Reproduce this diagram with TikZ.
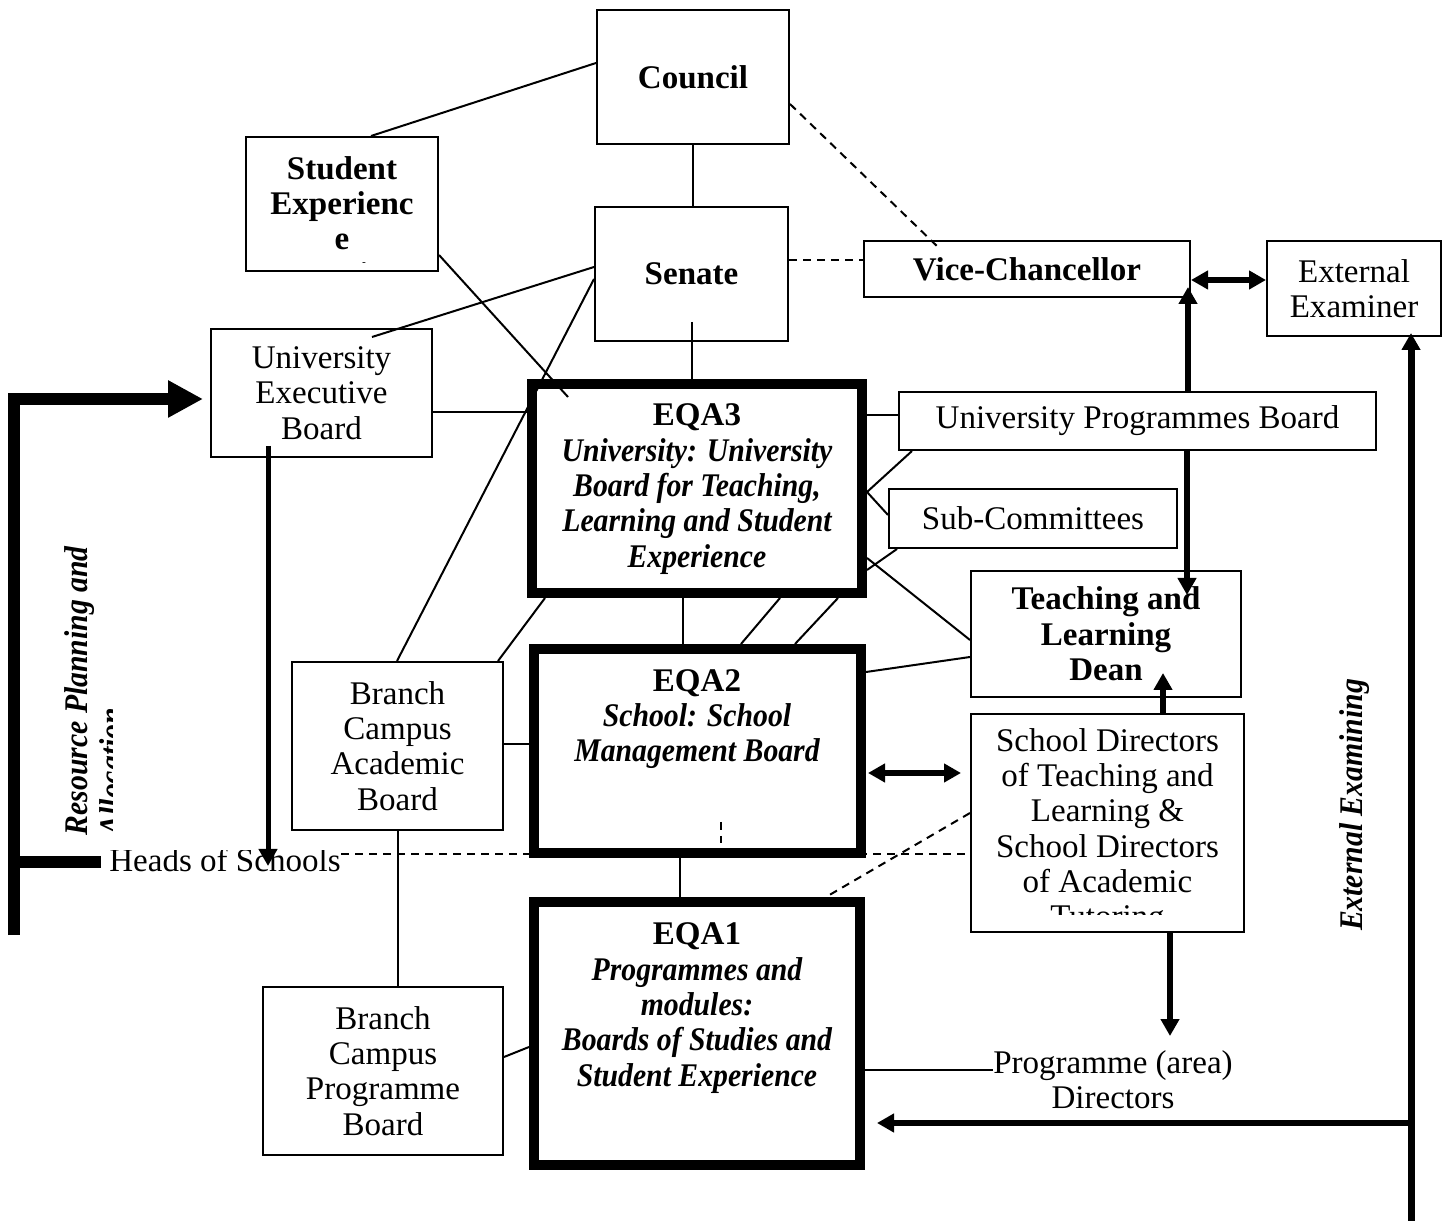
\documentclass[tikz,border=0pt]{standalone}
\usepackage{fontspec}
\setmainfont{Liberation Serif}
\newfontfamily\narrowserif{Liberation Serif}[FakeStretch=0.9]
\usetikzlibrary{arrows.meta, calc}
\tikzset{
  box/.style={draw, line width=0.2mm, align=center, inner sep=0pt},
  eqabox/.style={draw, line width=1mm, inner sep=0pt},
  link/.style={line width=0.2mm},
  dlink/.style={line width=0.2mm, dash pattern=on 0.8mm off 0.6mm},
  flow/.style={line width=0.6mm, -{Triangle[length=1.7mm,width=1.8mm]}},
  dflow/.style={line width=0.6mm, {Triangle[length=1.7mm,width=1.8mm]}-{Triangle[length=1.7mm,width=1.8mm]}},
  resflow/.style={line width=1.2mm, line join=miter},
}
\newcommand\eqit[1]{{\narrowserif\bfseries\itshape #1}}

\begin{document}
\fontsize{9.4}{10.05}\selectfont
\begin{tikzpicture}[x=0.1mm, y=-0.1mm]
\useasboundingbox (0,0) rectangle (1448,1221);

\node[box, minimum width=19.2mm, minimum height=13.4mm, font=\bfseries] (council) at (693,77) {Council};
\node[box, minimum width=19.3mm, minimum height=13.4mm, font=\bfseries] (senate) at (691.5,274) {Senate};
\node[box, minimum width=19.2mm, minimum height=13.4mm] (sec) at (342,204) {};
\begin{scope}
  \clip (246,137) rectangle (438,263);
  \node[align=center, inner sep=0pt, font=\bfseries] (sectxt) at (342,221) {Student\\Experienc\\e\\Committee};
\end{scope}
\node[box, minimum width=32.6mm, minimum height=5.6mm, font=\bfseries] (vc) at (1027,269) {Vice-Chancellor};
\node[box, minimum width=17.4mm, minimum height=9.5mm] (ee) at (1354,288.5) {External\\Examiner};
\node[box, minimum width=22.1mm, minimum height=12.8mm] (ueb) at (321.5,393) {University\\Executive\\Board};

\node[eqabox, minimum width=33mm, minimum height=20.9mm] (eqa3) at (697,488.5) {};
\node[align=center, inner sep=0pt] (eqa3txt) at (697,489) {\textbf{EQA3}\\\eqit{University: University}\\\eqit{Board for Teaching,}\\\eqit{Learning and Student}\\\eqit{Experience}};
\node[eqabox, minimum width=32.7mm, minimum height=20.4mm] (eqa2) at (697.5,751) {};
\node[align=center, inner sep=0pt] (eqa2txt) at (697,719) {\textbf{EQA2}\\\eqit{School: School}\\\eqit{Management Board}};
\node[eqabox, minimum width=32.6mm, minimum height=26.3mm] (eqa1) at (697,1033.5) {};
\node[align=center, inner sep=0pt] (eqa1txt) at (697,1008) {\textbf{EQA1}\\\eqit{Programmes and}\\\eqit{modules:}\\\eqit{Boards of Studies and}\\\eqit{Student Experience}};

\node[box, minimum width=47.7mm, minimum height=5.8mm] (upb) at (1137.5,421) {University Programmes Board};
\node[box, minimum width=28.8mm, minimum height=5.9mm] (subc) at (1033,518.5) {Sub-Committees};
\node[box, minimum width=27mm, minimum height=12.6mm, font=\bfseries] (dean) at (1106,634) {Teaching and\\Learning\\Dean};
\node[box, minimum width=27.3mm, minimum height=21.8mm] (sdir) at (1107.5,823) {};
\begin{scope}
  \clip (971,714) rectangle (1244,914);
  \node[align=center, inner sep=0pt] (sdirtxt) at (1107.5,831.5) {School Directors\\of Teaching and\\Learning \&\\School Directors\\of Academic\\Tutoring};
\end{scope}
\node[box, minimum width=21.1mm, minimum height=16.8mm] (bcab) at (397.5,746) {Branch\\Campus\\Academic\\Board};
\node[box, minimum width=24mm, minimum height=16.8mm] (bcpb) at (383,1071) {Branch\\Campus\\Programme\\Board};
\node[align=center, inner sep=0pt] (progdir) at (1113,1080) {Programme (area)\\Directors};

\begin{scope}
  \clip (100,851) rectangle (345,900);
  \node[inner sep=0pt] (heads) at (225,860) {Heads of Schools};
\end{scope}
\begin{scope}
  \clip (0,500) rectangle (112,900);
  \node[rotate=90, anchor=north west, align=left, inner sep=0pt, font=\narrowserif\bfseries\itshape] (rpa) at (64,836) {Resource Planning and\\Allocation};
\end{scope}
\node[rotate=90, inner sep=0pt, font=\narrowserif\bfseries\itshape] (exam) at (1355,805) {External Examining};

\coordinate (rpbot) at (14,935);
\coordinate (exbot) at (1411,1221);

% plain links
\draw[link] (council.west |- 0,63) -- (sec.north -| 371,0);
\draw[link] (council.south) -- (council.south |- senate.north);
\draw[link] (sec.east |- 0,255) -- ($(eqa3.north west)+(41,18)$);
\draw[link] ($(senate.south)+(0,-20)$) -- (eqa3.north -| senate.south);
\draw[link] (senate.west |- 0,267) -- ($(ueb.north -| 372,0)+(0,9)$);
\draw[link] (senate.west |- 0,279) -- (bcab.north -| 397,0);
\draw[link] (ueb.east |- 0,412) -- (eqa3.west |- 0,412);
\draw[link] (bcab.north -| 498,0) -- (eqa3.south -| 545,0);
\draw[link] (eqa3.south -| 683,0) -- (eqa2.north -| 683,0);
\draw[link] (eqa3.south -| 780,0) -- (eqa2.north -| 741,0);
\draw[link] (eqa3.south -| 838,0) -- (eqa2.north -| 795,0);
\draw[link] (eqa3.east |- 0,415) -- (upb.west |- 0,415);
\draw[link] (eqa3.east |- 0,492) -- (upb.south -| 912,0);
\draw[link] (eqa3.east |- 0,492) -- (subc.west |- 0,515);
\draw[link] (eqa3.east |- 0,570) -- (subc.south -| 897,0);
\draw[link] (eqa3.east |- 0,558) -- (dean.west |- 0,640);
\draw[link] (eqa2.east |- 0,672) -- (dean.west |- 0,657);
\draw[link] (bcab.east |- 0,744) -- (eqa2.west |- 0,744);
\draw[link] (eqa2.south -| 680,0) -- (eqa1.north -| 680,0);
\draw[link] (bcab.south) -- (bcpb.north -| bcab.south);
\draw[link] (bcpb.east |- 0,1057) -- (eqa1.west |- 0,1047);
\draw[link] (eqa1.east |- 0,1070) -- (progdir.west |- 0,1070);

% dashed links
\draw[dlink] (council.east |- 0,104) -- ($(vc.north -| 940,0)+(0,9)$);
\draw[dlink] (senate.east |- 0,260) -- (vc.west |- 0,260);
\draw[dlink] (heads.east |- 0,854) -- (sdir.west |- 0,854);
\draw[dlink] (sdir.west |- 0,813) -- (eqa1.north -| 826,0);
\draw[dlink] ($(eqa2.south -| 721,0)+(0,-36)$) -- ($(eqa2.south -| 721,0)+(0,-15)$);

% thick arrows
\draw[dflow] (vc.east |- 0,280) -- (ee.west |- 0,280);
\draw[flow] (upb.north -| 1188,0) -- ($(vc.south -| 1188,0)+(0,-11)$);
\draw[flow] (upb.south -| 1187,0) -- ($(dean.north -| 1187,0)+(0,25)$);
\draw[flow] (sdir.north -| 1163,0) -- ($(dean.south -| 1163,0)+(0,-25)$);
\draw[dflow] ($(eqa2.east |- 0,773)+(2,0)$) -- ($(sdir.west |- 0,773)+(-9,0)$);
\draw[flow] (sdir.south -| 1170,0) -- ($(progdir.north -| 1170,0)+(0,-14)$);
\draw[flow, line width=0.7mm] (exbot) -- ($(ee.south -| exbot)+(0,-4)$);
\draw[flow] (exbot |- 0,1123) -- ($(eqa1.east |- 0,1123)+(12,0)$);
\draw[flow, line width=0.5mm] ($(ueb.south -| 268,0)+(0,-12)$) -- ($(heads.center -| 268,0)+(0,6)$);

% resource planning
\draw[resflow, -{Triangle[length=3.5mm,width=3.5mm]}] (rpbot) |- ($(ueb.west |- 0,399)+(-7,0)$);
\draw[resflow] (rpbot |- 0,862) -- ($(heads.west |- 0,862)+(-8,0)$);

\end{tikzpicture}
\end{document}
